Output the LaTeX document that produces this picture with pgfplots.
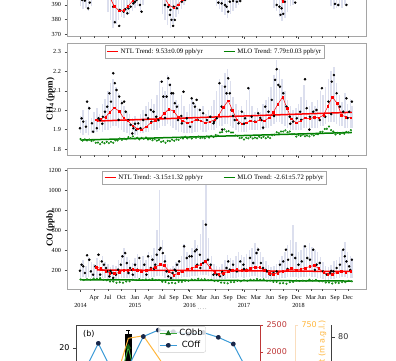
\documentclass[border=0pt]{standalone}
\usepackage{pgfplots}
\usepackage{pgfplotstable}
\pgfplotsset{compat=1.18}
\usepackage{fontspec}
\setmainfont{Liberation Serif}
\newfontfamily\dejavu{DejaVu Sans}
\definecolor{cloudc}{RGB}{140,148,200}
\definecolor{mlog}{RGB}{0,128,0}
\definecolor{framec}{RGB}{165,165,165}
\definecolor{bblue}{RGB}{60,155,215}
\definecolor{bnavy}{RGB}{25,40,75}
\definecolor{bgreen}{RGB}{60,170,60}
\definecolor{bdgreen}{RGB}{20,100,20}
\definecolor{borange}{RGB}{255,182,60}
\definecolor{bred}{RGB}{190,55,55}
\definecolor{bpeach}{RGB}{250,222,190}

% ---------------- CO2 ----------------
\pgfplotstableread{
x y
2014.03 393.4
2014.08 393.0
2014.14 387.7
2014.17 391.6
2014.60 388.8
2014.63 378.2
2014.71 375.7
2014.72 386.6
2014.79 385.4
2014.82 387.0
2014.86 384.3
2014.88 387.7
2014.92 388.8
2014.97 391.1
2015.00 392.2
2015.03 393.4
2015.09 390.0
2015.12 385.4
2015.55 390.0
2015.61 388.8
2015.64 383.2
2015.65 386.6
2015.67 379.8
2015.70 375.7
2015.71 388.8
2015.73 379.8
2015.77 387.7
2015.79 390.0
2015.86 392.2
2015.92 393.4
2016.53 391.6
2016.59 391.1
2016.65 390.0
2016.68 388.8
2016.71 385.4
2016.74 392.2
2016.80 392.7
2016.87 392.2
2016.93 392.7
2017.60 390.0
2017.65 388.8
2017.67 383.2
2017.69 387.7
2017.72 383.9
2017.75 392.2
2017.94 391.6
2018.67 390.7
2018.73 390.0
2018.88 390.0
}\cotwoblack
\pgfplotstableread{
x lo hi
2014.00 389 402
2014.05 387 402
2014.10 388 402
2014.15 386 402
2014.20 389 402
2014.50 385 402
2014.55 380 402
2014.60 374 402
2014.65 377 402
2014.70 380 402
2014.75 382 402
2014.80 381 402
2014.85 383 402
2014.90 384 402
2014.95 386 402
2015.00 388 402
2015.05 389 402
2015.10 385 402
2015.15 390 402
2015.50 384 404
2015.55 380 404
2015.60 376 404
2015.65 374 404
2015.70 377 404
2015.75 382 404
2015.80 384 404
2015.85 387 404
2015.90 390 404
2016.50 389 406
2016.55 387 406
2016.60 385 406
2016.65 383 406
2016.70 381 406
2016.75 384 406
2016.80 386 406
2016.85 388 406
2016.90 390 406
2017.55 388 408
2017.60 386 408
2017.65 382 408
2017.70 379 408
2017.75 381 408
2017.80 385 408
2017.85 389 408
2017.90 390 408
2018.60 389 410
2018.65 387 410
2018.70 388 410
2018.75 389 410
2018.80 388 410
2018.85 390 410
}\cotwocloud
\pgfplotstableread{
x y
2014.37 405
2014.46 400
2014.54 395
2014.62 389
2014.71 386
2014.79 386.5
2014.87 389
2014.96 393
2015.04 397
2015.12 402
2015.21 405
2015.37 406
2015.46 401
2015.54 395
2015.62 390
2015.71 388
2015.79 390
2015.87 394
2015.96 398
2016.04 402
2016.12 406
2016.29 408
2016.46 404
2016.54 400
2016.62 396
2016.71 395
2016.79 397
2016.87 401
2016.96 405
2017.21 410
2017.46 406
2017.54 401
2017.62 397
2017.71 392.7
2017.79 396
2017.87 401
2017.96 406
2018.21 412
2018.46 408
2018.54 404
2018.62 400
2018.71 398
2018.79 400
2018.87 404
2018.96 408
}\cotwored

% ---------------- CH4 ----------------
\pgfplotstableread{
x y
2013.99 1.907
2014.02 1.958
2014.05 1.941
2014.10 1.915
2014.12 2.044
2014.16 2.010
2014.21 1.932
2014.23 1.889
2014.30 1.907
2014.33 1.958
2014.36 1.949
2014.40 1.930
2014.41 1.966
2014.45 1.992
2014.49 2.018
2014.53 2.087
2014.56 2.044
2014.60 2.190
2014.63 2.139
2014.66 2.104
2014.70 1.950
2014.71 2.070
2014.76 2.036
2014.80 2.044
2014.83 1.992
2014.88 1.949
2014.92 1.924
2014.95 1.880
2014.97 1.907
2015.00 1.930
2015.02 1.898
2015.06 1.932
2015.10 1.907
2015.15 1.949
2015.20 1.975
2015.24 1.958
2015.29 2.001
2015.30 1.940
2015.34 1.992
2015.39 1.966
2015.43 1.949
2015.49 2.147
2015.52 2.070
2015.55 1.960
2015.58 2.070
2015.61 2.164
2015.64 2.130
2015.67 2.087
2015.70 2.087
2015.73 2.036
2015.77 2.018
2015.79 1.949
2015.85 1.970
2015.86 1.932
2015.89 2.095
2015.95 1.958
2016.01 1.915
2016.04 2.061
2016.07 2.036
2016.10 2.018
2016.13 2.053
2016.15 1.950
2016.19 2.001
2016.25 1.984
2016.32 1.949
2016.38 1.966
2016.44 1.932
2016.45 1.940
2016.50 1.958
2016.55 2.139
2016.59 2.018
2016.60 1.900
2016.65 2.121
2016.68 2.087
2016.71 2.164
2016.74 2.087
2016.77 2.001
2016.80 1.970
2016.83 1.949
2016.90 1.932
2016.96 1.992
2017.00 1.930
2017.02 1.958
2017.08 2.113
2017.14 1.966
2017.20 1.941
2017.26 1.984
2017.30 1.960
2017.32 1.949
2017.35 1.910
2017.39 2.018
2017.45 1.992
2017.51 2.053
2017.55 1.970
2017.57 2.156
2017.60 2.211
2017.63 2.130
2017.66 2.121
2017.72 2.087
2017.78 2.018
2017.84 1.966
2017.85 1.930
2017.90 1.941
2017.97 1.958
2018.03 1.992
2018.05 1.950
2018.12 2.159
2018.15 2.010
2018.20 1.900
2018.21 1.966
2018.27 1.992
2018.30 1.960
2018.33 2.001
2018.39 1.949
2018.43 2.113
2018.49 1.966
2018.55 2.044
2018.60 1.980
2018.61 2.147
2018.65 2.181
2018.70 2.087
2018.76 2.018
2018.82 1.992
2018.88 2.061
2018.90 1.960
2018.93 1.992
2018.98 2.044
}\chblack
\pgfplotstableread{
x lo hi
2014.00 1.88 1.97
2014.05 1.87 2.00
2014.10 1.88 1.95
2014.15 1.87 2.02
2014.20 1.88 1.96
2014.25 1.88 1.99
2014.30 1.89 2.01
2014.35 1.90 1.98
2014.40 1.89 2.03
2014.45 1.90 2.06
2014.50 1.90 2.10
2014.55 1.91 2.14
2014.60 1.92 2.16
2014.65 1.92 2.12
2014.70 1.91 2.09
2014.75 1.90 2.05
2014.80 1.89 2.02
2014.85 1.88 1.99
2014.90 1.87 1.98
2014.95 1.87 1.96
2015.00 1.87 1.97
2015.05 1.87 1.95
2015.10 1.88 1.98
2015.15 1.88 2.00
2015.20 1.89 2.02
2015.25 1.89 2.04
2015.30 1.90 2.06
2015.35 1.90 2.03
2015.40 1.90 2.08
2015.45 1.91 2.15
2015.50 1.92 2.12
2015.55 1.92 2.10
2015.60 1.93 2.18
2015.65 1.92 2.14
2015.70 1.91 2.09
2015.75 1.90 2.05
2015.80 1.89 2.03
2015.85 1.89 2.08
2015.90 1.88 2.02
2015.95 1.88 1.99
2016.00 1.88 2.03
2016.05 1.88 2.06
2016.10 1.89 2.03
2016.15 1.89 2.01
2016.20 1.90 1.99
2016.25 1.89 2.02
2016.30 1.89 1.98
2016.35 1.90 2.00
2016.40 1.90 2.02
2016.45 1.90 2.05
2016.50 1.91 2.10
2016.55 1.92 2.16
2016.60 1.92 2.13
2016.65 1.93 2.19
2016.70 1.93 2.21
2016.75 1.92 2.15
2016.80 1.91 2.07
2016.85 1.90 2.03
2016.90 1.89 2.00
2016.95 1.89 2.02
2017.00 1.89 1.99
2017.05 1.89 2.05
2017.10 1.90 2.12
2017.15 1.90 2.02
2017.20 1.90 1.99
2017.25 1.90 2.01
2017.30 1.90 1.99
2017.35 1.90 2.03
2017.40 1.91 2.05
2017.45 1.91 2.07
2017.50 1.92 2.12
2017.55 1.93 2.18
2017.60 1.94 2.26
2017.65 1.94 2.21
2017.70 1.93 2.16
2017.75 1.92 2.10
2017.80 1.91 2.05
2017.85 1.90 2.02
2017.90 1.90 2.00
2017.95 1.90 2.01
2018.00 1.90 2.03
2018.05 1.90 2.07
2018.10 1.91 2.13
2018.15 1.91 2.05
2018.20 1.91 2.02
2018.25 1.91 2.04
2018.30 1.91 2.02
2018.35 1.91 2.05
2018.40 1.92 2.10
2018.45 1.92 2.08
2018.50 1.93 2.12
2018.55 1.94 2.16
2018.60 1.94 2.20
2018.65 1.94 2.22
2018.70 1.93 2.14
2018.75 1.92 2.08
2018.80 1.92 2.04
2018.85 1.91 2.09
2018.90 1.91 2.03
2018.95 1.91 2.06
2018.98 1.91 2.02
}\chcloud
\pgfplotstableread{
x y
2014.00 1.851
2014.04 1.843
2014.08 1.850
2014.12 1.844
2014.16 1.849
2014.20 1.841
2014.24 1.844
2014.28 1.832
2014.32 1.833
2014.36 1.825
2014.40 1.835
2014.44 1.829
2014.48 1.837
2014.52 1.830
2014.56 1.837
2014.60 1.832
2014.64 1.844
2014.68 1.844
2014.72 1.854
2014.76 1.847
2014.80 1.853
2014.84 1.850
2014.88 1.861
2014.92 1.856
2014.96 1.865
2015.00 1.854
2015.04 1.858
2015.08 1.849
2015.12 1.857
2015.16 1.853
2015.20 1.859
2015.24 1.849
2015.28 1.851
2015.32 1.845
2015.36 1.851
2015.40 1.843
2015.44 1.847
2015.48 1.837
2015.52 1.840
2015.56 1.832
2015.60 1.842
2015.64 1.840
2015.68 1.848
2015.72 1.842
2015.76 1.849
2015.80 1.847
2015.84 1.858
2015.88 1.854
2015.92 1.863
2015.96 1.855
2016.00 1.860
2016.04 1.854
2016.08 1.862
2016.12 1.858
2016.16 1.864
2016.20 1.856
2016.24 1.859
2016.28 1.855
2016.32 1.865
2016.36 1.859
2016.40 1.867
2016.44 1.862
2016.48 1.872
2016.52 1.869
2016.56 1.885
2016.60 1.887
2016.64 1.901
2016.68 1.890
2016.72 1.892
2016.76 1.885
2016.80 1.885
2016.84 1.869
2016.88 1.867
2016.92 1.856
2016.96 1.858
2017.00 1.849
2017.04 1.858
2017.08 1.855
2017.12 1.862
2017.16 1.854
2017.20 1.859
2017.24 1.855
2017.28 1.863
2017.32 1.857
2017.36 1.863
2017.40 1.855
2017.44 1.862
2017.48 1.856
2017.52 1.871
2017.56 1.873
2017.60 1.886
2017.64 1.882
2017.68 1.890
2017.72 1.890
2017.76 1.896
2017.80 1.886
2017.84 1.890
2017.88 1.876
2017.92 1.876
2017.96 1.864
2018.00 1.872
2018.04 1.868
2018.08 1.874
2018.12 1.866
2018.16 1.869
2018.20 1.865
2018.24 1.875
2018.28 1.869
2018.32 1.877
2018.36 1.876
2018.40 1.888
2018.44 1.889
2018.48 1.903
2018.52 1.904
2018.56 1.916
2018.60 1.897
2018.64 1.890
2018.68 1.875
2018.72 1.883
2018.76 1.877
2018.80 1.883
2018.84 1.879
2018.88 1.888
2018.92 1.886
2018.96 1.897
}\chgreen
\pgfplotstableread{
x y
2014.29 1.950
2014.37 1.955
2014.46 1.965
2014.54 1.990
2014.62 2.012
2014.71 1.995
2014.79 1.960
2014.87 1.945
2014.96 1.920
2015.04 1.905
2015.12 1.900
2015.21 1.915
2015.29 1.935
2015.37 1.945
2015.46 1.960
2015.54 1.985
2015.62 2.005
2015.71 1.995
2015.79 1.965
2015.87 1.945
2015.96 1.935
2016.04 1.940
2016.12 1.950
2016.21 1.945
2016.29 1.935
2016.37 1.940
2016.46 1.950
2016.54 1.975
2016.62 2.015
2016.71 2.048
2016.79 2.000
2016.87 1.950
2016.96 1.930
2017.04 1.935
2017.12 1.945
2017.21 1.940
2017.29 1.950
2017.37 1.945
2017.46 1.960
2017.54 1.990
2017.62 2.030
2017.71 2.068
2017.79 2.010
2017.87 1.955
2017.96 1.935
2018.04 1.945
2018.12 1.960
2018.21 1.955
2018.29 1.965
2018.37 1.960
2018.46 1.975
2018.54 2.020
2018.62 2.068
2018.71 2.035
2018.79 1.975
2018.87 1.965
2018.96 1.960
}\chred

% ---------------- CO ----------------
\pgfplotstableread{
x y
2013.99 193
2014.02 253
2014.05 236
2014.08 170
2014.12 347
2014.16 303
2014.19 186
2014.23 153
2014.27 236
2014.33 353
2014.36 153
2014.39 286
2014.43 253
2014.47 220
2014.49 186
2014.53 136
2014.55 190
2014.57 170
2014.60 120
2014.65 153
2014.69 203
2014.74 253
2014.77 337
2014.82 370
2014.85 270
2014.88 170
2014.91 220
2014.95 200
2014.96 153
2015.00 253
2015.04 203
2015.08 320
2015.12 186
2015.17 253
2015.21 153
2015.24 337
2015.29 220
2015.32 303
2015.35 210
2015.37 253
2015.40 353
2015.45 404
2015.47 421
2015.51 370
2015.55 286
2015.58 186
2015.61 136
2015.66 120
2015.69 170
2015.73 203
2015.75 190
2015.77 253
2015.81 286
2015.86 186
2015.90 437
2015.95 320
2016.00 337
2016.04 337
2016.10 387
2016.13 404
2016.14 253
2016.19 353
2016.20 220
2016.25 270
2016.30 655
2016.34 303
2016.39 253
2016.44 153
2016.50 153
2016.56 136
2016.60 180
2016.62 153
2016.68 220
2016.71 286
2016.74 203
2016.80 253
2016.87 186
2016.93 286
2016.99 253
2017.00 210
2017.05 203
2017.11 320
2017.17 270
2017.23 370
2017.26 404
2017.31 270
2017.35 220
2017.40 200
2017.42 186
2017.48 153
2017.54 170
2017.60 186
2017.66 253
2017.72 286
2017.77 404
2017.80 210
2017.81 303
2017.88 353
2017.94 320
2018.00 253
2018.06 286
2018.12 437
2018.16 320
2018.21 303
2018.27 404
2018.30 200
2018.33 253
2018.39 270
2018.45 186
2018.52 153
2018.58 170
2018.60 190
2018.64 186
2018.70 220
2018.76 253
2018.82 404
2018.85 337
2018.88 286
2018.93 236
2018.95 200
2018.98 303
}\coblack
\pgfplotstableread{
x lo hi
2014.00 120 260
2014.05 130 300
2014.10 120 240
2014.15 125 330
2014.20 120 280
2014.25 115 260
2014.30 120 320
2014.35 125 300
2014.40 120 340
2014.45 115 280
2014.50 110 260
2014.55 105 230
2014.60 100 250
2014.65 105 240
2014.70 110 300
2014.75 115 350
2014.80 120 420
2014.85 120 330
2014.90 115 300
2014.95 110 270
2015.00 115 320
2015.05 120 360
2015.10 120 300
2015.15 120 340
2015.20 115 300
2015.25 120 380
2015.30 125 350
2015.35 130 420
2015.40 135 600
2015.45 140 1000
2015.50 135 500
2015.55 120 350
2015.60 105 260
2015.65 100 220
2015.70 100 240
2015.75 105 280
2015.80 110 300
2015.85 115 340
2015.90 125 460
2015.95 130 380
2016.00 130 360
2016.05 135 420
2016.10 140 500
2016.15 140 450
2016.20 145 560
2016.25 150 700
2016.30 150 1100
2016.35 140 520
2016.40 120 340
2016.45 110 260
2016.50 105 240
2016.55 100 230
2016.60 105 260
2016.65 110 300
2016.70 115 350
2016.75 120 320
2016.80 120 300
2016.85 120 340
2016.90 125 380
2016.95 125 350
2017.00 120 330
2017.05 125 360
2017.10 130 400
2017.15 135 420
2017.20 135 470
2017.25 130 430
2017.30 125 380
2017.35 120 330
2017.40 115 290
2017.45 110 250
2017.50 105 230
2017.55 100 240
2017.60 105 260
2017.65 110 300
2017.70 115 340
2017.75 120 380
2017.80 125 450
2017.85 130 500
2017.90 130 650
2017.95 125 480
2018.00 120 380
2018.05 125 400
2018.10 130 450
2018.15 130 420
2018.20 135 470
2018.25 130 430
2018.30 125 400
2018.35 120 380
2018.40 115 330
2018.45 110 280
2018.50 100 240
2018.55 100 230
2018.60 105 250
2018.65 110 290
2018.70 115 300
2018.75 120 330
2018.80 125 400
2018.85 125 480
2018.90 120 380
2018.95 120 340
2018.98 120 320
}\cocloud
\pgfplotstableread{
x y
2014.00 105
2014.06 99
2014.12 107
2014.18 103
2014.24 113
2014.30 110
2014.36 117
2014.42 101
2014.48 97
2014.54 84
2014.60 84
2014.66 72
2014.72 76
2014.78 72
2014.84 85
2014.90 86
2014.96 100
2015.02 99
2015.08 108
2015.14 100
2015.20 105
2015.26 102
2015.32 111
2015.38 100
2015.44 100
2015.50 83
2015.56 80
2015.62 67
2015.68 72
2015.74 67
2015.80 81
2015.86 80
2015.92 90
2015.98 92
2016.04 104
2016.10 101
2016.16 111
2016.22 104
2016.28 107
2016.34 98
2016.40 101
2016.46 89
2016.52 89
2016.58 74
2016.64 71
2016.70 66
2016.76 78
2016.82 78
2016.88 91
2016.94 87
2017.00 96
2017.06 91
2017.12 102
2017.18 100
2017.24 109
2017.30 102
2017.36 105
2017.42 92
2017.48 94
2017.54 81
2017.60 81
2017.66 66
2017.72 68
2017.78 62
2017.84 78
2017.90 81
2017.96 95
2018.02 89
2018.08 94
2018.14 91
2018.20 102
2018.26 94
2018.32 100
2018.38 87
2018.44 87
2018.50 74
2018.56 75
2018.62 65
2018.68 73
2018.74 69
2018.80 78
2018.86 78
2018.92 90
2018.98 86
}\cogreen
\pgfplotstableread{
x y
2014.29 230
2014.37 215
2014.46 190
2014.54 170
2014.62 165
2014.71 175
2014.79 200
2014.87 195
2014.96 205
2015.04 200
2015.12 190
2015.21 195
2015.29 210
2015.37 230
2015.46 255
2015.54 245
2015.62 190
2015.71 150
2015.79 165
2015.87 190
2015.96 205
2016.04 215
2016.12 235
2016.21 255
2016.29 285
2016.37 230
2016.46 175
2016.54 160
2016.62 165
2016.71 185
2016.79 195
2016.87 205
2016.96 195
2017.04 200
2017.12 215
2017.21 230
2017.29 225
2017.37 195
2017.46 170
2017.54 160
2017.62 170
2017.71 185
2017.79 195
2017.87 215
2017.96 200
2018.04 205
2018.12 220
2018.21 235
2018.29 245
2018.37 215
2018.46 175
2018.54 155
2018.62 160
2018.71 175
2018.79 190
2018.87 180
2018.96 190
}\cored

\pgfplotsset{
 toppanel/.style={
  scale only axis, width=299pt,
  xmin=2013.752, xmax=2019.239,
  axis line style={draw=framec, line width=0.6pt},
  tick style={draw=black!70, line width=0.4pt},
  tick align=outside, xtick pos=bottom, ytick pos=left,
  major tick length=2.5pt,
  xtick={2014,2015,2016,2017,2018},
  extra x ticks={2014.25,2014.5,2014.75,2015,2015.25,2015.5,2015.716,2015.967,2016.224,2016.468,2016.706,2016.963,2017.22,2017.477,2017.716,2017.967,2018.23,2018.43,2018.67,2018.908},
  extra x tick style={major tick length=1.5pt},
  tick label style={font=\fontsize{6.2}{7.2}\selectfont, text=black},
  /pgf/number format/assume math mode=true,
  /pgf/number format/set thousands separator={},
  ylabel style={at={(axis description cs:-0.055,0.5)}, anchor=center, font=\fontsize{9}{10}\selectfont\bfseries},
  legend columns=2,
  legend style={font=\fontsize{6.8}{7.5}\selectfont, draw=framec, line width=0.5pt, inner sep=1.2pt, /tikz/every even column/.append style={column sep=18pt}},
 },
 cloud/.style={forget plot, mark=none, draw=cloudc, draw opacity=0.3, line width=1.5pt},
 blk/.style={forget plot, only marks, mark=*, mark size=1.05pt, mark options={draw=black, fill=black}},
 grn/.style={forget plot, only marks, mark=*, mark size=0.85pt, mark options={draw=mlog, fill=mlog!55}},
 rmon/.style={forget plot, red, line width=0.5pt, mark=square*, mark size=0.8pt, mark options={solid, fill=red}},
}

\begin{document}
\begin{tikzpicture}
\useasboundingbox (0,0) rectangle (396pt,360pt);
\clip (0,0) rectangle (396pt,360pt);

% ===== CO2 panel =====
\begin{axis}[toppanel, at={(67pt,324pt)}, anchor=south west, height=75pt,
  ymin=368.8, ymax=420, ytick={370,380,390,400,410},
  xticklabels={}, extra x tick labels={}]
\addplot[cloud, quiver={u=0, v=\thisrow{hi}-\thisrow{lo}}] table[x=x, y=lo] {\cotwocloud};
\addplot[blk] table[x=x,y=y] {\cotwoblack};
\addplot[rmon] table[x=x,y=y] {\cotwored};
\end{axis}

% ===== CH4 panel =====
\begin{axis}[toppanel, at={(67pt,205pt)}, anchor=south west, height=112pt,
  ymin=1.769, ymax=2.346, ytick={1.8,1.9,2.0,2.1,2.2,2.3},
  yticklabel style={/pgf/number format/.cd, fixed, fixed zerofill, precision=1},
  xticklabels={}, extra x tick labels={},
  ylabel={CH\textsubscript{4} (ppm)},
  legend style={at={(0.494,0.982)}, anchor=north},
  legend image code/.code={\draw[#1] (0pt,0pt) -- (11pt,0pt);}]
\addplot[cloud, quiver={u=0, v=\thisrow{hi}-\thisrow{lo}}] table[x=x, y=lo] {\chcloud};
\addplot[blk] table[x=x,y=y] {\chblack};
\addplot[grn] table[x=x,y=y] {\chgreen};
\addplot[rmon] table[x=x,y=y] {\chred};
\addplot[red, line width=1.5pt] coordinates {(2014.30,1.944) (2018.98,1.989)};
\addlegendentry{NTL Trend: 9.53±0.09 ppb/yr}
\addplot[mlog, line width=1.5pt] coordinates {(2014.00,1.846) (2018.98,1.885)};
\addlegendentry{MLO Trend: 7.79±0.03 ppb/yr}
\end{axis}

% ===== CO panel =====
\begin{axis}[toppanel, at={(67pt,71pt)}, anchor=south west, height=121pt,
  ymin=9, ymax=1224, ytick={200,400,600,800,1000,1200},
  xticklabel style={align=center},
  xticklabels={{\strut\\2014},{\strut\\2015},{\strut\\2016},{\strut\\2017},{\strut\\2018}},
  extra x tick labels={{\strut Apr},{\strut Jul},{\strut Oct},{\strut Jan},{\strut Apr},{\strut Jul},{\strut Sep},{\strut Dec},{\strut Mar},{\strut Jun},{\strut Sep},{\strut Dec},{\strut Mar},{\strut Jun},{\strut Sep},{\strut Dec},{\strut Mar},{\strut Jun},{\strut Sep},{\strut Dec}},
  ylabel={CO (ppb)},
  legend style={at={(0.494,0.975)}, anchor=north},
  legend image code/.code={\draw[#1] (0pt,0pt) -- (11pt,0pt);}]
\addplot[cloud, quiver={u=0, v=\thisrow{hi}-\thisrow{lo}}] table[x=x, y=lo] {\cocloud};
\addplot[blk] table[x=x,y=y] {\coblack};
\addplot[grn] table[x=x,y=y] {\cogreen};
\addplot[rmon] table[x=x,y=y] {\cored};
\addplot[red, line width=1.5pt] coordinates {(2014.30,200) (2018.98,185)};
\addlegendentry{NTL Trend: -3.15±1.32 ppb/yr}
\addplot[mlog, line width=1.5pt] coordinates {(2014.00,102) (2018.98,89)};
\addlegendentry{MLO Trend: -2.61±5.72 ppb/yr}
\end{axis}

\node[text=black!55, font=\fontsize{6}{6}\selectfont] at (202pt,50.5pt) {.\,.\,.\,.};

% ===== panel (b): extra right spines =====
\begin{axis}[scale only axis, at={(76pt,35pt)}, anchor=north west, width=255.7pt, height=80pt,
  xmin=0, xmax=1, ymin=63, ymax=83, axis x line=none, axis y line*=right,
  y axis line style={draw=black!75, line width=0.6pt}, ytick={70,80},
  tick align=outside, major tick length=3pt, tick style={draw=black!75},
  tick label style={font=\dejavu\fontsize{8}{9}\selectfont, text=black!80},
  /pgf/number format/assume math mode=true]
\addplot[draw=none, forget plot] coordinates {(0.5,70)};
\end{axis}
\begin{axis}[scale only axis, at={(76pt,35pt)}, anchor=north west, width=219pt, height=80pt,
  xmin=0, xmax=1, ymin=450, ymax=750, axis x line=none, axis y line*=right,
  y axis line style={draw=bpeach, line width=0.6pt}, ytick={750},
  tick align=outside, major tick length=3pt, tick style={draw=bpeach},
  tick label style={font=\dejavu\fontsize{8}{9}\selectfont, text=borange},
  /pgf/number format/assume math mode=true]
\addplot[draw=none, forget plot] coordinates {(0.5,600)};
\end{axis}
\node[rotate=90, anchor=east, text=borange, font=\dejavu\fontsize{8}{9}\selectfont] at (322.5pt,43pt) {Height (m a.g.l.)};

% ===== panel (b) main =====
\begin{axis}[scale only axis, at={(76pt,35pt)}, anchor=north west, width=184pt, height=80pt,
  xmin=-0.49, xmax=11.78, ymin=12.84, ymax=22.84,
  axis line style={draw=black!75, line width=0.6pt},
  xtick=\empty, ytick={15,20}, ytick pos=left, tick align=outside, major tick length=3pt,
  tick style={draw=black!75},
  tick label style={font=\dejavu\fontsize{8}{9}\selectfont},
  /pgf/number format/assume math mode=true,
  legend style={at={(0.446,0.985)}, anchor=north west, font=\dejavu\fontsize{8.5}{10}\selectfont,
    fill=white, fill opacity=0.8, text opacity=1, draw=black!20, rounded corners=2pt, inner sep=1pt}]
\addplot[forget plot, ybar, bar width=6.7pt, fill=black, draw=black,
  error bars/.cd, y dir=plus, y explicit, error bar style={black, line width=0.6pt}]
  coordinates {(3,21.67) +- (0,0.55)};
\addplot[forget plot, borange, line width=1pt] coordinates {(0,14) (1,14.5) (2,15.0) (3,21.18) (4,21.5) (5,18.8) (6,16) (7,15) (8,14) (9,14) (10,14) (11,14)};
\addplot[bgreen, line width=1pt, mark=triangle*, mark size=2.3pt, mark options={fill=bdgreen, draw=bdgreen}]
  coordinates {(0,11) (1,11) (2,12.6) (3,20.1) (4,12.0) (5,11.5) (6,11) (7,11) (8,11) (9,11) (10,11) (11,11)};
\addlegendentry{CObb}
\addplot[bblue, line width=1pt, mark=10-pointed star, mark size=2.3pt, mark options={fill=bnavy, draw=bnavy}]
  coordinates {(0,16.8) (1,20.55) (2,16.8) (3,17.6) (4,21.4) (5,22.2) (6,22.0) (7,21.7) (8,21.9) (9,21.3) (10,20.46) (11,16.9)};
\addlegendentry{COff}
\node[anchor=west, font=\dejavu\fontsize{8}{9}\selectfont] at (axis description cs:0.02,0.885) {(b)};
\end{axis}

% red right spine of panel (b)
\begin{axis}[scale only axis, at={(76pt,35pt)}, anchor=north west, width=184pt, height=80pt,
  xmin=0, xmax=1, ymin=1002, ymax=2500, axis x line=none, axis y line*=right,
  y axis line style={draw=bred, line width=0.6pt}, ytick={1500,2000,2500},
  tick align=outside, major tick length=3pt, tick style={draw=bred},
  tick label style={font=\dejavu\fontsize{8}{9}\selectfont, text=bred},
  /pgf/number format/assume math mode=true,
  /pgf/number format/set thousands separator={}]
\addplot[draw=none, forget plot] coordinates {(0.5,2000)};
\end{axis}
\end{tikzpicture}
\end{document}
